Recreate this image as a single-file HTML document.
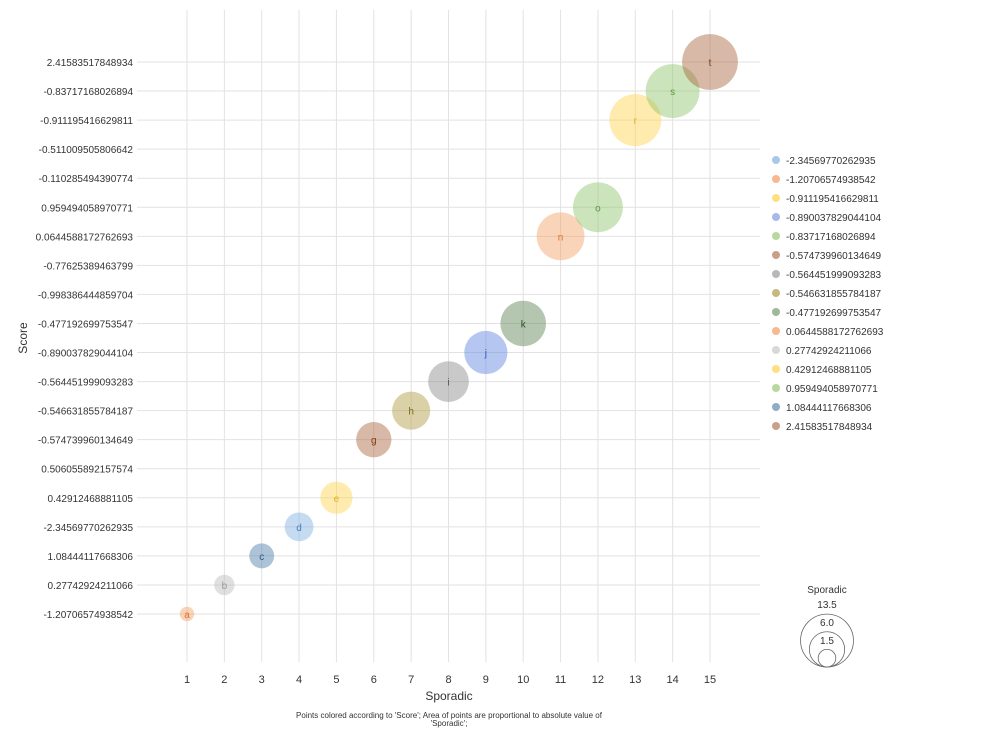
<!DOCTYPE html>
<html><head><meta charset="utf-8"><style>
body{margin:0;background:#fff;font-family:"Liberation Sans",sans-serif}
svg text{font-family:"Liberation Sans",sans-serif}
</style></head><body>
<svg id="c" width="992" height="744"></svg>
<script>
const yLabels=["-1.20706574938542","0.27742924211066","1.08444117668306","-2.34569770262935","0.42912468881105","0.506055892157574","-0.574739960134649","-0.546631855784187","-0.564451999093283","-0.890037829044104","-0.477192699753547","-0.998386444859704","-0.77625389463799","0.0644588172762693","0.959494058970771","-0.110285494390774","-0.511009505806642","-0.911195416629811","-0.83717168026894","2.41583517848934"];
const xTicks=[1,2,3,4,5,6,7,8,9,10,11,12,13,14,15];
const pLabels=["a","b","c","d","e","g","h","i","j","k","n","o","r","s","t"];
const pX=[1,2,3,4,5,6,7,8,9,10,11,12,13,14,15];
const pY=[0,1,2,3,4,6,7,8,9,10,13,14,17,18,19];
const pFill=["#f4a064","#bbbbbb","#4a7aa8","#7eb0e0","#ffd24a","#a8623a","#b09a40","#888888","#5a82e0","#5a8050","#f4a064","#8cc46a","#ffd24a","#8cc46a","#a8623a"];
const pText=["#e07030","#999","#2a5a88","#4a80c0","#e0b020","#803a10","#806a10","#555","#2a52c0","#2a5020","#e07030","#5a9a3a","#e0b020","#5a9a3a","#803a10"];
const legLabels=["-2.34569770262935","-1.20706574938542","-0.911195416629811","-0.890037829044104","-0.83717168026894","-0.574739960134649","-0.564451999093283","-0.546631855784187","-0.477192699753547","0.0644588172762693","0.27742924211066","0.42912468881105","0.959494058970771","1.08444117668306","2.41583517848934"];
const legColors=["#a8c8e8","#f8b890","#ffe080","#a8b8e8","#b8d8a0","#c8a088","#b8b8b8","#c8b880","#a0b898","#f8b890","#d8d8d8","#ffe080","#b8d8a0","#90acc8","#c8a088"];
const sizeLegend=[13.5,6.0,1.5];
const NS="http://www.w3.org/2000/svg",svg=document.getElementById('c');
function el(t,a,p){const e=document.createElementNS(NS,t);for(const k in a)e.setAttribute(k,a[k]);(p||svg).appendChild(e);return e;}
const xs=v=>187+(v-1)*(710-187)/14, ys=i=>614-i*(614-62)/19, rs=v=>7.2*Math.sqrt(v);
xTicks.forEach(v=>{const l=el('line',{x1:xs(v),x2:xs(v),y1:10,y2:662,stroke:'#e2e2e2'});

const t=el('text',{x:xs(v),y:683,'font-size':11,'text-anchor':'middle',fill:'#333'});t.textContent=v;
});
yLabels.forEach((s,i)=>{const l=el('line',{x1:137,x2:760,y1:ys(i),y2:ys(i),stroke:'#e2e2e2'});

const t=el('text',{x:133,y:ys(i)+4,'font-size':10,'text-anchor':'end',fill:'#333'});t.textContent=s;
});
pX.forEach((v,i)=>{const g=el('g',{});
el('circle',{cx:xs(v),cy:ys(pY[i]),r:rs(v),fill:pFill[i],'fill-opacity':0.45},g);
const t=el('text',{x:xs(v),y:ys(pY[i])+4,'font-size':10,'text-anchor':'middle',fill:pText[i]},g);t.textContent=pLabels[i];});
legLabels.forEach((s,i)=>{const g=el('g',{});
el('circle',{cx:776,cy:160+i*19,r:4,fill:legColors[i]},g);
const t=el('text',{x:786,y:164+i*19,'font-size':10,fill:'#333'},g);t.textContent=s;});
const sg=el('g',{});
let st=el('text',{x:827,y:593,'font-size':10,'text-anchor':'middle',fill:'#333'},sg);st.textContent='Sporadic';
sizeLegend.forEach((v,i)=>{const r=rs(v);el('circle',{cx:827,cy:667-r,r:r,fill:'none',stroke:'#666','stroke-width':0.8},sg);
const t=el('text',{x:827,y:608+i*18,'font-size':10,'text-anchor':'middle',fill:'#333'},sg);t.textContent=v.toFixed(1);});
let t=el('text',{x:449,y:700,'font-size':12,'text-anchor':'middle',fill:'#333'});t.textContent='Sporadic';

t=el('text',{x:27,y:338,'font-size':12,'text-anchor':'middle',fill:'#333',transform:'rotate(-90 27 338)'});t.textContent='Score';

t=el('text',{x:449,y:718,'font-size':8,'text-anchor':'middle',fill:'#333'});t.textContent="Points colored according to 'Score'; Area of points are proportional to absolute value of";

t=el('text',{x:449,y:726,'font-size':8,'text-anchor':'middle',fill:'#333'});t.textContent="'Sporadic';";

</script>
</body></html>
